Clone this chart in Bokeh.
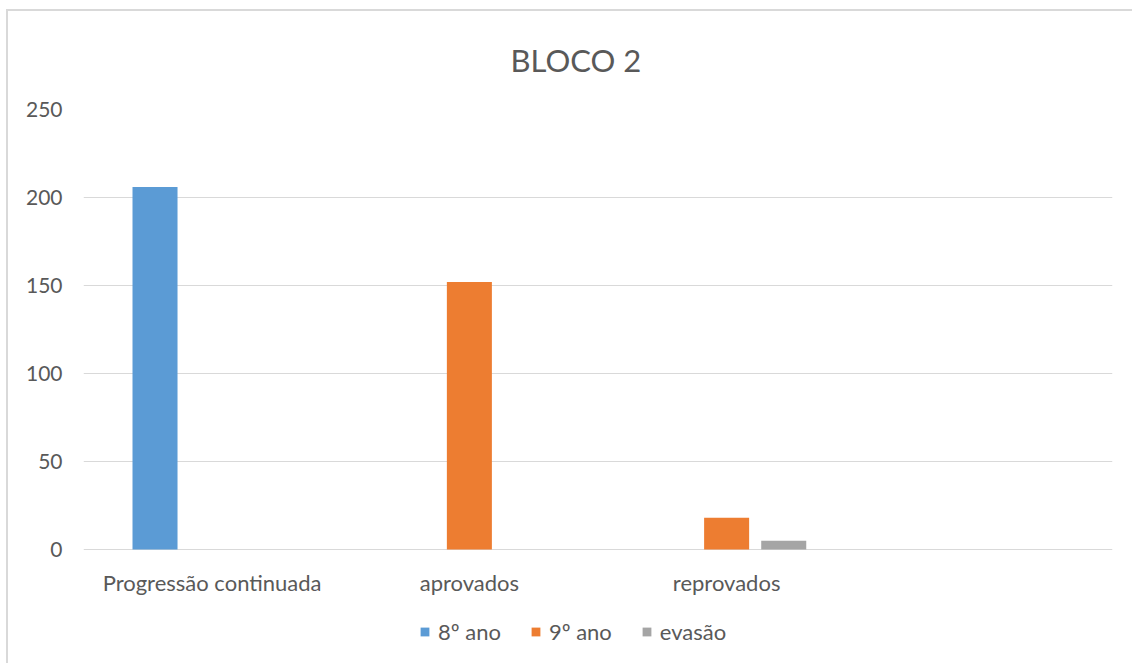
from bokeh.plotting import figure
from bokeh.models import ColumnDataSource, FactorRange, Range1d, FixedTicker, Legend, LegendItem
from bokeh.core.properties import value
from bokeh.transform import dodge
from bokeh.embed import file_html
from bokeh.resources import INLINE

# Categories (the fourth slot is an empty category, as in the original workbook)
categories = ["Progressão continuada", "aprovados", "reprovados", " "]
series_names = ["8º ano", "9º ano", "evasão"]
oitavo_ano = [206, 0, 0]
nono_ano = [0, 152, 18]
evasao = [0, 0, 5]
y_ticks = [0, 50, 100, 150, 200, 250]

colors = ["#5B9BD5", "#ED7D31", "#A5A5A5"]
FONT = "Lato"
TEXT = "#595959"

# Frame geometry: the plotting area reaches down to the bottom of the canvas so the
# category labels and the legend can be laid out under the zero line.
FIG_W, FIG_H = 1126, 654
TOP, LEFT, RIGHT = 98, 75, 22
AXIS_PX = 440            # pixels between 0 and 250
Y_MAX = 250
px_per_unit = AXIS_PX / Y_MAX
below_zero = FIG_H - TOP - AXIS_PX
y_start = -below_zero / px_per_unit

source = ColumnDataSource(data=dict(
    cat=categories[:3],
    s0=oitavo_ano,
    s1=nono_ano,
    s2=evasao,
))
label_source = ColumnDataSource(data=dict(cat=categories, base=[0] * len(categories)))

p = figure(
    x_range=FactorRange(*categories, range_padding=0),
    y_range=Range1d(y_start, Y_MAX),
    width=FIG_W, height=FIG_H,
    output_backend="svg", toolbar_location=None,
    x_axis_location=None,
    min_border_left=LEFT, min_border_right=RIGHT,
    min_border_top=TOP, min_border_bottom=0,
    title="BLOCO 2",
    styles={"margin-left": "6px", "margin-top": "9px",
            "border-left": "2px solid #d9d9d9", "border-top": "2px solid #d9d9d9"},
)

offsets = [-0.222, 0.0, 0.222]
renderers = []
for i, (name, col) in enumerate(zip(series_names, colors)):
    r = p.vbar(x=dodge("cat", offsets[i], range=p.x_range), top=f"s{i}", width=0.175,
               source=source, fill_color=col, line_color=None)
    renderers.append(r)

# Category labels hang under the zero line
p.text(x="cat", y="base", text="cat", source=label_source,
       text_font=value(FONT), text_font_size="22px", text_color=TEXT,
       text_align="center", text_baseline="middle", y_offset=33)

# Title, centred on the whole chart rather than on the plotting area
p.title.align = "left"
p.title.offset = 427
p.title.vertical_align = "top"
p.title.text_font = FONT
p.title.text_font_size = "31px"
p.title.text_font_style = "normal"
p.title.text_color = TEXT
p.title.standoff = 57

# Value axis
p.yaxis.ticker = FixedTicker(ticks=y_ticks)
p.yaxis.axis_line_color = None
p.yaxis.major_tick_line_color = None
p.yaxis.minor_tick_line_color = None
p.yaxis.major_label_text_font = FONT
p.yaxis.major_label_text_font_size = "21px"
p.yaxis.major_label_text_color = TEXT
p.yaxis.major_label_standoff = 15

p.xgrid.grid_line_color = None
p.ygrid.ticker = FixedTicker(ticks=y_ticks)
p.ygrid.grid_line_color = "#d9d9d9"
p.ygrid.grid_line_width = 1
p.outline_line_color = None
p.background_fill_color = "white"
p.border_fill_color = "white"

legend = Legend(
    items=[LegendItem(label=n, renderers=[r]) for n, r in zip(series_names, renderers)],
    orientation="horizontal",
    location=(336, 20),
    label_text_font=FONT,
    label_text_font_size="22px",
    label_text_color=TEXT,
    glyph_width=11, glyph_height=11,
    label_standoff=8,
    spacing=29,
    border_line_color=None,
    background_fill_alpha=0,
    margin=0,
    padding=0,
)
p.add_layout(legend, "center")

open("out.html", "w").write(file_html(p, INLINE))
